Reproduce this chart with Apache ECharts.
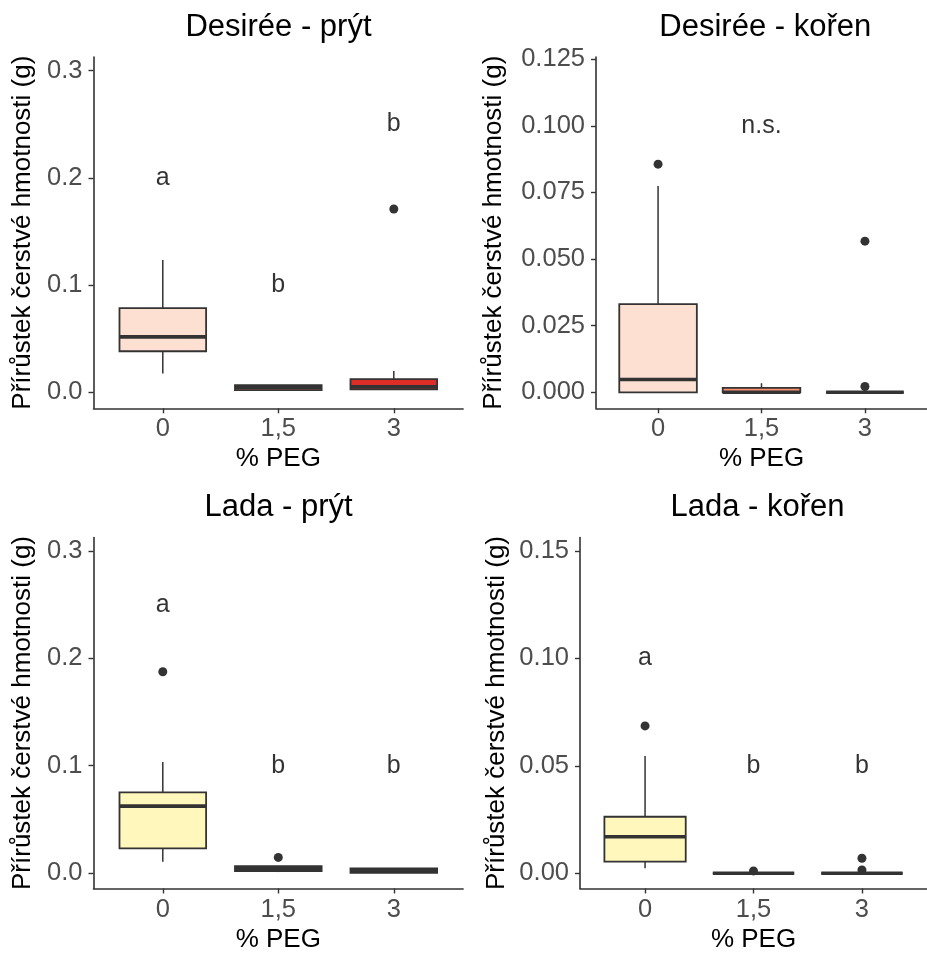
<!DOCTYPE html>
<html>
<head>
<meta charset="utf-8">
<script src="https://cdn.jsdelivr.net/npm/echarts@6/dist/echarts.min.js"></script>
<style>
  html, body { margin: 0; padding: 0; background: #ffffff; }
  #chart { width: 927px; height: 954px; }
</style>
</head>
<body>
<div id="chart"></div>
<script>
// ---------------- data ----------------
const categories = ['0', '1,5', '3'];

// box stats per category: [lower whisker, Q1, median, Q3, upper whisker]
const desireeShootBox = [
  [0.0176, 0.0383, 0.0517, 0.0786, 0.1235],
  [0.0015, 0.0021, 0.0045, 0.0068, 0.0068],
  [0.0028, 0.0028, 0.0052, 0.0124, 0.0199]
];
const desireeRootBox = [
  [0.0, 0.0, 0.0048, 0.0331, 0.0774],
  [0.0, 0.0, 0.0, 0.0017, 0.0034],
  [0.0, 0.0, 0.0, 0.0, 0.0]
];
const ladaShootBox = [
  [0.0105, 0.0230, 0.0624, 0.0752, 0.1034],
  [0.0009, 0.0019, 0.0045, 0.0065, 0.0065],
  [0.0003, 0.0003, 0.0025, 0.0044, 0.0044]
];
const ladaRootBox = [
  [0.0023, 0.0054, 0.0170, 0.0263, 0.0546],
  [0.0, 0.0, 0.0, 0.0, 0.0],
  [0.0, 0.0, 0.0, 0.0, 0.0]
];

// outliers: [category index (0-based), value]
const desireeShootOutliers = [[2, 0.171]];
const desireeRootOutliers = [[0, 0.0856], [2, 0.0567], [2, 0.0022]];
const ladaShootOutliers = [[0, 0.1876], [1, 0.0146]];
const ladaRootOutliers = [[0, 0.0686], [1, 0.0011], [2, 0.0070], [2, 0.0015]];

// significance letters: [category index, y, text]
const desireeShootLetters = [[0, 0.2, 'a'], [1, 0.1, 'b'], [2, 0.25, 'b']];
const desireeRootLetters = [[1, 0.1, 'n.s.']];
const ladaShootLetters = [[0, 0.25, 'a'], [1, 0.1, 'b'], [2, 0.1, 'b']];
const ladaRootLetters = [[0, 0.1, 'a'], [1, 0.05, 'b'], [2, 0.05, 'b']];

// fills per category
const desireeFills = ['#FEE0D2', '#FC9272', '#DE2D26'];
const ladaFills = ['#FFF7BC', '#FEC44F', '#D95F0E'];

// y tick values
const shootTicks = [0, 0.1, 0.2, 0.3];
const desireeRootTicks = [0, 0.025, 0.05, 0.075, 0.1, 0.125];
const ladaRootTicks = [0, 0.05, 0.1, 0.15];

const panelTitles = ['Desirée - prýt', 'Desirée - kořen', 'Lada - prýt', 'Lada - kořen'];
const yTitle = 'Přírůstek čerstvé hmotnosti (g)';
const xTitle = '% PEG';

// ---------------- layout ----------------
const FONT = '"Liberation Sans", Arial, Helvetica, sans-serif';
const DARK = '#333333';
const panels = [
  { box: desireeShootBox, out: desireeShootOutliers, letters: desireeShootLetters, fills: desireeFills,
    ticks: shootTicks, dec: 1, ymin: -0.0149, ymax: 0.3128,
    grid: { left: 93.5, top: 57, width: 369.6, height: 351.3 }, nameGap: 58, titleX: 278.5, titleY: 27 },
  { box: desireeRootBox, out: desireeRootOutliers, letters: desireeRootLetters, fills: desireeFills,
    ticks: desireeRootTicks, dec: 3, ymin: -0.0060, ymax: 0.1258,
    grid: { left: 596, top: 57, width: 338.6, height: 351.3 }, nameGap: 89, titleX: 765.3, titleY: 27 },
  { box: ladaShootBox, out: ladaShootOutliers, letters: ladaShootLetters, fills: ladaFills,
    ticks: shootTicks, dec: 1, ymin: -0.0144, ymax: 0.3127,
    grid: { left: 93.5, top: 537.5, width: 369.6, height: 351 }, nameGap: 58, titleX: 278.5, titleY: 507.5 },
  { box: ladaRootBox, out: ladaRootOutliers, letters: ladaRootLetters, fills: ladaFills,
    ticks: ladaRootTicks, dec: 2, ymin: -0.0071, ymax: 0.1563,
    grid: { left: 580, top: 537.5, width: 354.6, height: 351 }, nameGap: 70, titleX: 757.5, titleY: 507.5 }
];

const grid = [], xAxis = [], yAxis = [], series = [], graphic = [];

panels.forEach((p, k) => {
  grid.push(p.grid);
  xAxis.push({
    type: 'value', gridIndex: k, min: 0.4, max: 3.6,
    axisLine: { show: true, onZero: false, lineStyle: { color: DARK, width: 1.6 } },
    axisTick: { show: true, length: 5, customValues: [1, 2, 3], lineStyle: { color: DARK, width: 1.4 } },
    axisLabel: { show: true, customValues: [1, 2, 3], margin: 8,
      formatter: v => categories[Math.round(v) - 1], color: '#4D4D4D', fontSize: 25.5, fontFamily: FONT },
    splitLine: { show: false },
    name: xTitle, nameLocation: 'middle', nameGap: 38,
    nameTextStyle: { color: '#000', fontSize: 26, fontFamily: FONT }
  });
  yAxis.push({
    type: 'value', gridIndex: k, min: p.ymin, max: p.ymax,
    axisLine: { show: true, onZero: false, lineStyle: { color: DARK, width: 1.6 } },
    axisTick: { show: true, length: 5, customValues: p.ticks, lineStyle: { color: DARK, width: 1.4 } },
    axisLabel: { show: true, customValues: p.ticks, margin: 11,
      formatter: v => Number(v).toFixed(p.dec), color: '#4D4D4D', fontSize: 25.5, fontFamily: FONT },
    splitLine: { show: false },
    name: yTitle, nameLocation: 'middle', nameGap: p.nameGap, nameRotate: 90,
    nameTextStyle: { color: '#000', fontSize: 26, fontFamily: FONT }
  });

  const fills = p.fills;
  series.push({
    type: 'scatter', xAxisIndex: k, yAxisIndex: k,
    data: p.out.map(o => [o[0] + 1, o[1]]),
    symbol: 'circle', symbolSize: 9,
    itemStyle: { color: DARK, opacity: 1 },
    silent: true, z: 2
  });
  series.push({
    type: 'custom', xAxisIndex: k, yAxisIndex: k,
    data: p.box.map((b, i) => [i + 1].concat(b)),
    z: 3,
    renderItem: function (params, api) {
      const x = api.value(0);
      const lo = api.coord([x, api.value(1)]);
      const q1 = api.coord([x, api.value(2)]);
      const med = api.coord([x, api.value(3)]);
      const q3 = api.coord([x, api.value(4)]);
      const hi = api.coord([x, api.value(5)]);
      const w = api.size([0.75, 0])[0];
      const cx = q1[0];
      const fill = fills[params.dataIndex];
      return {
        type: 'group',
        children: [
          { type: 'line', shape: { x1: cx, y1: q3[1], x2: cx, y2: hi[1] },
            style: { stroke: DARK, lineWidth: 1.5 } },
          { type: 'line', shape: { x1: cx, y1: lo[1], x2: cx, y2: q1[1] },
            style: { stroke: DARK, lineWidth: 1.5 } },
          { type: 'rect', shape: { x: cx - w / 2, y: q3[1], width: w, height: q1[1] - q3[1] },
            style: { fill: fill, stroke: DARK, lineWidth: 1.8 } },
          { type: 'line', shape: { x1: cx - w / 2, y1: med[1], x2: cx + w / 2, y2: med[1] },
            style: { stroke: DARK, lineWidth: 3.6 } }
        ]
      };
    }
  });
  series.push({
    type: 'scatter', xAxisIndex: k, yAxisIndex: k,
    data: p.letters.map(l => ({ value: [l[0] + 1, l[1]], name: l[2] })),
    symbol: 'circle', symbolSize: 1,
    itemStyle: { color: 'rgba(0,0,0,0)' },
    label: { show: true, position: 'inside', formatter: d => d.name,
      color: '#000', fontSize: 25, fontFamily: FONT, textBorderWidth: 0 },
    silent: true, z: 4
  });
  graphic.push({
    type: 'text', x: p.titleX, y: p.titleY,
    style: { text: panelTitles[k], fill: '#000', font: '31px ' + FONT,
      textAlign: 'center', textVerticalAlign: 'middle' }
  });
});

const chart = echarts.init(document.getElementById('chart'), null, { renderer: 'canvas' });
chart.setOption({
  backgroundColor: '#ffffff',
  animation: false,
  grid, xAxis, yAxis, series, graphic
});
</script>
</body>
</html>
